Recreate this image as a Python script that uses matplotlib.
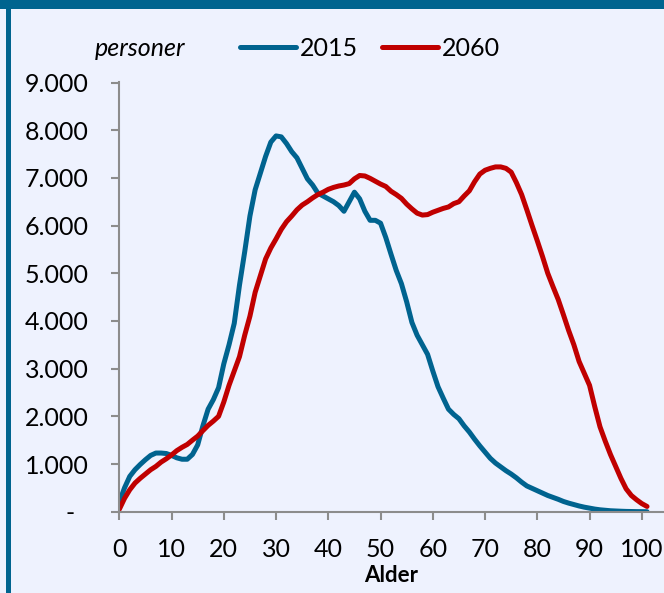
import numpy as np
import matplotlib
matplotlib.use("Agg")
import matplotlib.pyplot as plt
from matplotlib.patches import Rectangle
from matplotlib.transforms import ScaledTranslation

# population by age, 2015 and projected 2060
ages = list(range(0, 102))
pop_2015 = [200, 500, 740, 880, 990, 1090, 1180, 1230, 1230, 1220,
            1180, 1130, 1100, 1100, 1200, 1400, 1800, 2150, 2350, 2600,
            3100, 3500, 3950, 4750, 5450, 6200, 6750, 7100, 7450, 7750,
            7880, 7860, 7720, 7550, 7420, 7200, 6980, 6850, 6680, 6620,
            6560, 6500, 6420, 6300, 6500, 6700, 6560, 6300, 6110, 6110,
            6050, 5750, 5400, 5060, 4780, 4400, 3970, 3700, 3500, 3300,
            2950, 2620, 2380, 2150, 2040, 1950, 1800, 1670, 1520, 1380,
            1250, 1120, 1020, 940, 860, 790, 710, 620, 540, 490,
            440, 390, 340, 300, 260, 215, 180, 150, 120, 95,
            75, 55, 40, 30, 20, 15, 10, 6, 4, 2,
            1, 0]
pop_2060 = [50, 280, 460, 600, 700, 790, 880, 950, 1040, 1110,
            1190, 1280, 1350, 1410, 1500, 1585, 1700, 1810, 1900, 2000,
            2300, 2650, 2950, 3250, 3700, 4100, 4600, 4950, 5300, 5530,
            5720, 5920, 6080, 6200, 6330, 6430, 6500, 6580, 6650, 6700,
            6760, 6800, 6830, 6850, 6880, 6980, 7050, 7040, 6990, 6930,
            6870, 6820, 6720, 6650, 6570, 6450, 6350, 6260, 6220, 6230,
            6280, 6320, 6360, 6390, 6460, 6500, 6620, 6730, 6920, 7080,
            7160, 7200, 7230, 7230, 7200, 7120, 6900, 6650, 6330, 6000,
            5680, 5350, 5000, 4720, 4450, 4130, 3800, 3500, 3150, 2900,
            2650, 2200, 1780, 1480, 1200, 950, 700, 480, 340, 250,
            170, 110]
series_labels = ["2015", "2060"]
y_ticks = [0, 1000, 2000, 3000, 4000, 5000, 6000, 7000, 8000, 9000]
y_tick_labels = ["-", "1.000", "2.000", "3.000", "4.000", "5.000",
                 "6.000", "7.000", "8.000", "9.000"]
x_ticks = list(range(0, 101, 10))

bg = "#eef2fe"
border = "#00648f"
blue = "#00638f"
red = "#c00000"
axis_grey = "#8c8c8c"

plt.rcParams["font.family"] = ["Lato", "DejaVu Sans"]

W, H = 664, 593
fig = plt.figure(figsize=(W / 100, H / 100), dpi=100, facecolor=bg)

# frame decoration: band on top and on the left
fig.add_artist(Rectangle((0, 1 - 8.5 / H), 1, 8.5 / H, transform=fig.transFigure,
                         color=border, lw=0))
fig.add_artist(Rectangle((5.5 / W, 0), 5 / W, 1, transform=fig.transFigure,
                         color=border, lw=0))

left, right = 119.3 / W, 1.0
bottom, top = 1 - 511.7 / H, 1 - 82.5 / H
ax = fig.add_axes([left, bottom, right - left, top - bottom])
ax.set_facecolor(bg)

ax.plot(ages, pop_2015, color=blue, lw=3.6, label=series_labels[0],
        solid_capstyle="round", solid_joinstyle="round")
ax.plot(ages, pop_2060, color=red, lw=3.6, label=series_labels[1],
        solid_capstyle="round", solid_joinstyle="round")

px_per_age = 5.225
ax.set_xlim(0, (W - 119.3) / px_per_age)
ax.set_ylim(0, 9000)

ax.set_xticks(x_ticks)
ax.set_xticklabels([str(t) for t in x_ticks])
ax.set_yticks(y_ticks)
ax.set_yticklabels(y_tick_labels)

for s in ["top", "right"]:
    ax.spines[s].set_visible(False)
for s in ["left", "bottom"]:
    ax.spines[s].set_color(axis_grey)
    ax.spines[s].set_linewidth(1.5)

ax.tick_params(axis="both", colors=axis_grey, width=1.5, length=6,
               labelcolor="black", labelsize=18)
ax.tick_params(axis="y", pad=16)
ax.tick_params(axis="x", pad=13)

# the dash for zero sits a bit further left, as in an accounting format
zero_lab = ax.get_yticklabels()[0]
zero_lab.set_transform(zero_lab.get_transform() +
                       ScaledTranslation(-10 / 72, 0, fig.dpi_scale_trans))

# axis title placed below the tick labels
fig.text(391 / W, 1 - 575 / H, "Alder", fontsize=16, fontweight="bold",
         ha="center", va="center")

fig.text(95 / W, 1 - 48 / H, "personer", fontsize=18, style="italic",
         ha="left", va="center")

ax.legend(loc="center left", bbox_to_anchor=(240 / W, 1 - 48 / H),
          bbox_transform=fig.transFigure, ncol=2, frameon=False,
          fontsize=18, handlelength=2.25, handletextpad=0.15,
          columnspacing=0.95, borderpad=0, borderaxespad=0)

fig.savefig("out.png", dpi=100, facecolor=bg)
